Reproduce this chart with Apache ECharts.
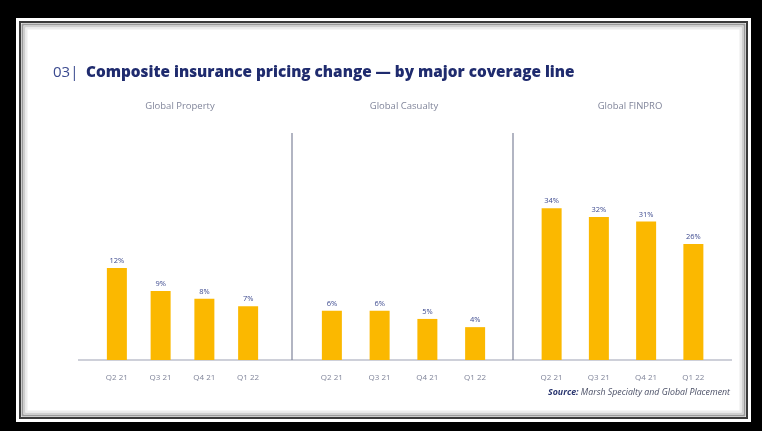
<!DOCTYPE html>
<html>
<head>
<meta charset="utf-8">
<script src="https://cdn.jsdelivr.net/npm/echarts@6/dist/echarts.min.js"></script>
<style>
  html, body { margin: 0; padding: 0; background: #000; }
  #chart { width: 762px; height: 431px; }
</style>
</head>
<body>
<div id="chart"></div>
<script>
var quarters = ['Q2 21', 'Q3 21', 'Q4 21', 'Q1 22'];
var panelNames = ['Global Property', 'Global Casualty', 'Global FINPRO'];
var propertyVals = [12, 9, 8, 7];
var casualtyVals = [6, 6, 5, 4];
var finproVals = [34, 32, 31, 26];
var panelMax = [30, 28, 51.5];

var chart = echarts.init(document.getElementById('chart'));

var gold = '#fbb800';
// grid horizontal placement of each panel (left, width)
var gridBox = [[95, 175], [308, 191], [528, 189]];
var allVals = [propertyVals, casualtyVals, finproVals];

var grids = [], xAxes = [], yAxes = [], series = [];
for (var i = 0; i < 3; i++) {
    grids.push({ left: gridBox[i][0], width: gridBox[i][1], top: 130, bottom: 71 });
    xAxes.push({
        type: 'category', gridIndex: i, data: quarters,
        axisLine: { show: false }, axisTick: { show: false },
        axisLabel: { color: '#80859a', fontSize: 8, margin: 14, fontFamily: 'Open Sans' }
    });
    yAxes.push({
        type: 'value', gridIndex: i, min: 0, max: panelMax[i],
        show: false, splitLine: { show: false }
    });
    series.push({
        type: 'bar', xAxisIndex: i, yAxisIndex: i, data: allVals[i],
        barWidth: 20, itemStyle: { color: gold },
        label: {
            show: true, position: 'top', distance: 3, formatter: '{c}%',
            color: '#3d4a8f', fontSize: 7.5, fontFamily: 'Open Sans'
        }
    });
}

// frame + decorations
var graphic = [
    { type: 'rect', shape: { x: 16, y: 18, width: 735, height: 404 }, style: { fill: '#ffffff' }, z: -10 },
    { type: 'rect', shape: { x: 20, y: 22, width: 727, height: 396 }, style: { fill: 'none', stroke: '#3a3a3a', lineWidth: 2 }, z: -9 },
    { type: 'rect', shape: { x: 22.5, y: 24.5, width: 722, height: 391 }, style: { fill: 'none', stroke: '#9a9a9a', lineWidth: 2 }, z: -9 },
    { type: 'rect', shape: { x: 24.5, y: 26.5, width: 718, height: 387 }, style: { fill: 'none', stroke: '#cfcfcf', lineWidth: 2 }, z: -9 },
    { type: 'rect', shape: { x: 26.5, y: 28.5, width: 714, height: 383 }, style: { fill: 'none', stroke: '#ececec', lineWidth: 2 }, z: -9 },
    // baseline
    { type: 'line', shape: { x1: 78, y1: 360, x2: 732, y2: 360 }, style: { stroke: '#9ea2b3', lineWidth: 1.2 } },
    // dividers
    { type: 'line', shape: { x1: 292, y1: 133, x2: 292, y2: 360 }, style: { stroke: '#7f849a', lineWidth: 1.2 } },
    { type: 'line', shape: { x1: 513, y1: 133, x2: 513, y2: 360 }, style: { stroke: '#7f849a', lineWidth: 1.2 } },
    // title
    { type: 'text', x: 53, y: 73, style: {
        text: '03|', fill: '#3b4a8f', font: '15px "Open Sans"', verticalAlign: 'middle'
    } },
    { type: 'text', x: 86, y: 73, style: {
        text: 'Composite insurance pricing change \u2014 by major coverage line',
        fill: '#1f2b6e', font: '800 15.3px "Open Sans"', verticalAlign: 'middle'
    } },
    // source
    { type: 'text', right: 32, top: 388, style: {
        text: '{b|Source:} Marsh Specialty and Global Placement',
        rich: { b: { fontWeight: 'bold', fontStyle: 'italic', fontSize: 8.8, fill: '#2a3670', fontFamily: 'Open Sans' } },
        fill: '#4a4f66', font: 'italic 8.8px "Open Sans"'
    } }
];
var subX = [180, 404, 630];
for (var j = 0; j < 3; j++) {
    graphic.push({ type: 'text', x: subX[j], y: 106, style: {
        text: panelNames[j], fill: '#80859a', font: '9.5px "Open Sans"', align: 'center', verticalAlign: 'middle'
    } });
}

chart.setOption({
    backgroundColor: '#000',
    animation: false,
    grid: grids,
    xAxis: xAxes,
    yAxis: yAxes,
    series: series,
    graphic: graphic
});
</script>
</body>
</html>
